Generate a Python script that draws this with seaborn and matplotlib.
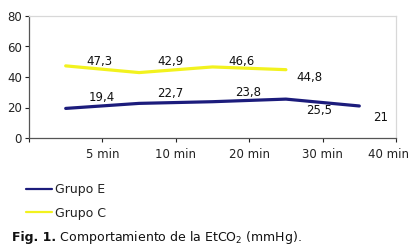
import matplotlib
matplotlib.use("Agg")
import matplotlib.pyplot as plt
import matplotlib.transforms as mtransforms
from matplotlib.lines import Line2D
import seaborn as sns
import pandas as pd

# ---- data ----
tick_labels = ["5 min", "10 min", "20 min", "30 min", "40 min"]
grupo_e = [19.4, 22.7, 23.8, 25.5, 21]
grupo_c = [47.3, 42.9, 46.6, 44.8]
series_names = ["Grupo E", "Grupo C"]

sns.set_theme(style="white")
plt.rcParams["font.family"] = ["DejaVu Sans"]

rows = []
for name, vals in zip(series_names, [grupo_e, grupo_c]):
    for i, v in enumerate(vals):
        rows.append({"pos": i + 0.5, "val": v, "serie": name})
df = pd.DataFrame(rows)

colors = {"Grupo E": "#1c1c7c", "Grupo C": "#f2f21e"}

fig = plt.figure(figsize=(4.14, 2.5), dpi=100)
ax = fig.add_axes([29 / 414, 1 - 138 / 250, (396 - 29) / 414, (138 - 16) / 250])

sns.lineplot(data=df, x="pos", y="val", hue="serie", palette=colors,
             linewidth=2.3, ax=ax, legend=False)

ax.set_xlim(0, 5)
ax.set_ylim(0, 80)
ax.set_xticks(range(0, 6))
ax.set_xticklabels([""] + tick_labels)
ax.set_yticks(range(0, 81, 20))
ax.set_xlabel("")
ax.set_ylabel("")
ax.tick_params(axis="both", labelsize=8.5, colors="#222222", length=3,
               width=0.8, direction="out", pad=2, bottom=True, left=True)
ax.tick_params(axis="x", pad=4)
for s in ["left", "bottom"]:
    ax.spines[s].set_color("#555555")
    ax.spines[s].set_linewidth(0.9)
for s in ["top", "right"]:
    ax.spines[s].set_color("#d8d8d8")
    ax.spines[s].set_linewidth(0.9)

# shift last x tick label left so it fits
lbl = ax.get_xticklabels()[-1]
lbl.set_transform(lbl.get_transform() + mtransforms.ScaledTranslation(-7 / 100, 0, fig.dpi_scale_trans))

# value labels (offsets in points: style only)
e_offsets = [(26, 8), (22.5, 6.8), (26, 6.5), (24, -8.4), (15, -8.5)]
c_offsets = [(24, 3), (22.5, 8), (21.2, 3.7), (17.3, -5.8)]
for vals, offs in [(grupo_e, e_offsets), (grupo_c, c_offsets)]:
    for i, (v, off) in enumerate(zip(vals, offs)):
        txt = f"{v:g}".replace(".", ",")
        ax.annotate(txt, xy=(i + 0.5, v), xytext=off, textcoords="offset points",
                    ha="center", va="center", fontsize=8.5, color="#111111")

# legend
handles = [Line2D([], [], color=colors[n], linewidth=1.6) for n in series_names]
fig.legend(handles, series_names, loc="upper left", bbox_to_anchor=(24 / 414, 1 - 181 / 250),
           frameon=False, fontsize=9, handlelength=2.0, handletextpad=0.3,
           labelspacing=0.8, borderaxespad=0, borderpad=0.2,
           labelcolor="#222222")

# caption
t1 = fig.text(12 / 414, 1 - 238 / 250, "Fig. 1.", fontsize=9, fontweight="bold",
              va="center", ha="left", color="#111111")
fig.canvas.draw()
ax.annotate(" Comportamiento de la EtCO$_2$ (mmHg).", xy=(1, 0.5), xycoords=t1,
            va="center", ha="left", fontsize=9, color="#111111", annotation_clip=False)

fig.savefig("out.png", dpi=100)
